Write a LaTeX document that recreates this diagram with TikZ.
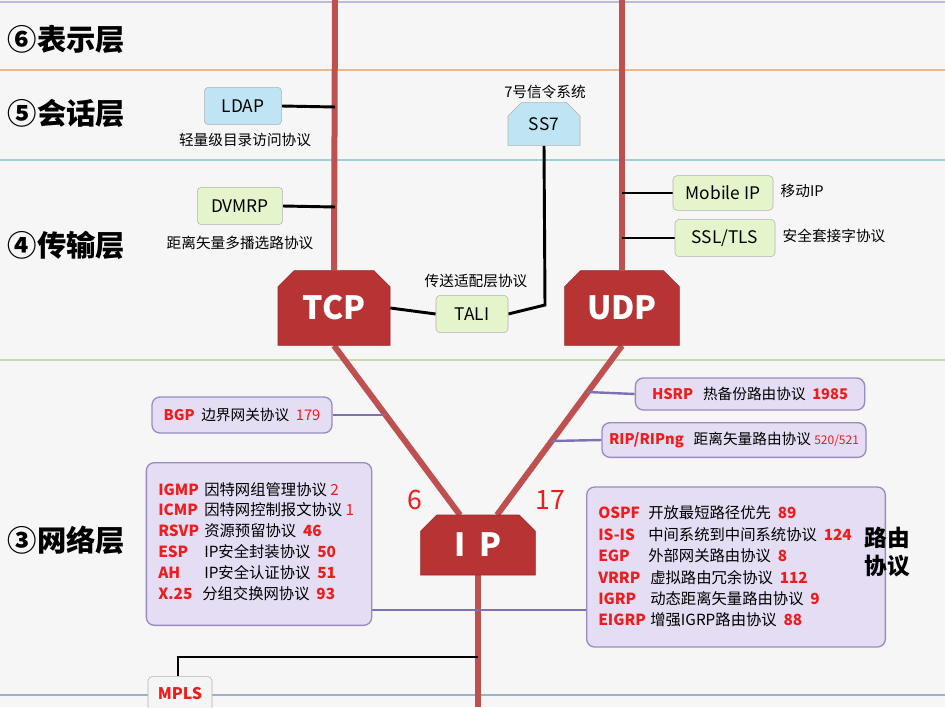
\documentclass[tikz,border=0pt]{standalone}
\usepackage{fontspec}
\setmainfont{Noto Sans CJK SC}
\usetikzlibrary{shapes.misc,backgrounds}
\definecolor{bgc}{HTML}{F6F6F6}
\definecolor{redbox}{HTML}{B83434}
\definecolor{redline}{HTML}{BE5050}
\definecolor{pfill}{HTML}{E4DDF3}
\definecolor{pdraw}{HTML}{9A8CC0}
\definecolor{pline}{HTML}{7F70B4}
\definecolor{bfill}{HTML}{BFE4F4}
\definecolor{gfill}{HTML}{E4F5CC}
\definecolor{txtred}{HTML}{EE1C1C}
\tikzset{
 x=0.75pt,y=-0.75pt,
 redn/.style={chamfered rectangle,chamfered rectangle xsep=6pt,chamfered rectangle ysep=6pt,chamfered rectangle corners={north west,north east},fill=redbox,draw=redbox!80!black,text=white,font=\bfseries\fontsize{24}{24}\selectfont,inner sep=0pt},
 sbox/.style={rounded corners=3pt,draw=gray!60,inner sep=0pt,font=\fontsize{13}{13}\selectfont},
 blue/.style={sbox,fill=bfill},
 green/.style={sbox,fill=gfill},
 pbox/.style={rounded corners=6pt,draw=pdraw,line width=1pt,fill=pfill,inner sep=0pt},
 lab/.style={font=\fontsize{11}{11}\selectfont},
 layer/.style={font=\bfseries\fontsize{22}{22}\selectfont,anchor=west},
 rl/.style={redline,line width=4.5pt},
 bl/.style={black,line width=2.2pt},
 pl/.style={pline,line width=1.8pt},
 item/.style={anchor=west,font=\fontsize{11.5}{11.5}\selectfont,inner sep=0pt},
 nm/.style={item,text=txtred,font=\bfseries\fontsize{11.5}{11.5}\selectfont},
}
\newcommand{\rn}[1]{{\color{txtred}#1}}
\begin{document}
\begin{tikzpicture}
\useasboundingbox (0,0) rectangle (945,707);
\clip (0,0) rectangle (945,707);
\begin{scope}[on background layer]
\fill[bgc] (0,0) rectangle (945,707);
\draw[line width=1pt,color={rgb,255:red,192;green,184;blue,216}] (0,2) -- (945,2);
\draw[line width=1pt,color={rgb,255:red,232;green,184;blue,144}] (0,70) -- (945,70);
\draw[line width=1pt,color={rgb,255:red,156;green,207;blue,216}] (0,160) -- (945,160);
\draw[line width=1pt,color={rgb,255:red,200;green,216;blue,176}] (0,360) -- (945,360);
\draw[line width=1pt,color={rgb,255:red,154;green,176;blue,208}] (0,695) -- (945,695);
\end{scope}
\node[layer] (l6) at (3,40) {⑥表示层};
\node[layer] (l5) at (3,113) {⑤会话层};
\node[layer] (l4) at (3,245) {④传输层};
\node[layer] (l3) at (3,540) {③网络层};

\node[redn,minimum width=84pt,minimum height=56pt] (TCP) at (334,308) {TCP};
\node[redn,minimum width=86pt,minimum height=56pt] (UDP) at (622,308) {UDP};
\node[redn,minimum width=86pt,minimum height=45pt] (IP) at (478,545) {I\hspace{10pt}P};

\node[blue,minimum width=58pt,minimum height=28pt] (LDAP) at (243,106) {LDAP};
\node[lab] (LDAPl) at (245,140) {轻量级目录访问协议};
\node[green,minimum width=64pt,minimum height=28pt] (DVMRP) at (240,206) {DVMRP};
\node[lab] (DVMRPl) at (240,243) {距离矢量多播选路协议};
\node[blue,rounded corners=0pt,chamfered rectangle,chamfered rectangle xsep=5pt,chamfered rectangle ysep=5pt,chamfered rectangle corners={north west,north east},minimum width=54pt,minimum height=32pt] (SS7) at (544,124) {SS7};
\node[lab] (SS7l) at (545,92) {7号信令系统};
\node[green,minimum width=54pt,minimum height=28pt] (TALI) at (472,314) {TALI};
\node[lab] (TALIl) at (476,281) {传送适配层协议};
\node[green,minimum width=75pt,minimum height=26pt] (MIP) at (723,193) {Mobile IP};
\node[lab,anchor=west] (MIPl) at (776,191) {移动IP};
\node[green,minimum width=75pt,minimum height=28pt] (SSL) at (725,238) {SSL/TLS};
\node[lab,anchor=west] (SSLl) at (778,236) {安全套接字协议};

\node[pbox,minimum width=135pt,minimum height=27pt,font=\fontsize{11}{11}\selectfont] (BGP) at (242,415) {{\color{txtred}\bfseries BGP}\ \ 边界网关协议\ \ \rn{179}};
\node[pbox,minimum width=172pt,minimum height=24pt,font=\fontsize{11}{11}\selectfont] (HSRP) at (750,394) {{\color{txtred}\bfseries HSRP}\ \ \ 热备份路由协议\ \ {\color{txtred}\bfseries 1985}};
\node[pbox,minimum width=198pt,minimum height=26pt,font=\fontsize{11}{11}\selectfont] (RIP) at (734,440) {{\color{txtred}\bfseries RIP/RIPng}\ \ \ 距离矢量路由协议\ {\color{txtred}\fontsize{9}{9}\selectfont 520/521}};

\node[pbox,minimum width=169pt,minimum height=122pt] (LB) at (259,544) {};
\node[nm] (n1) at (158,490) {IGMP}; \node[item] (d1) at (204,490) {因特网组管理协议\ \rn{2}};
\node[nm] (n2) at (158,510) {ICMP}; \node[item] (d2) at (204,510) {因特网控制报文协议\ \rn{1}};
\node[nm] (n3) at (158,531) {RSVP}; \node[item] (d3) at (204,531) {资源预留协议\ \ \rn{\bfseries 46}};
\node[nm] (n4) at (158,552) {ESP}; \node[item] (d4) at (204,552) {IP安全封装协议\ \ \rn{\bfseries 50}};
\node[nm] (n5) at (158,573) {AH}; \node[item] (d5) at (204,573) {IP安全认证协议\ \ \rn{\bfseries 51}};
\node[nm] (n6) at (158,594) {X.25}; \node[item] (d6) at (202,594) {分组交换网协议\ \ \rn{\bfseries 93}};

\node[pbox,minimum width=224pt,minimum height=120pt] (RB) at (736,567) {};
\node[nm] (m1) at (598,513) {OSPF}; \node[item] (e1) at (648,513) {开放最短路径优先\ \ \rn{\bfseries 89}};
\node[nm] (m2) at (598,535) {IS-IS}; \node[item] (e2) at (648,535) {中间系统到中间系统协议\ \ \rn{\bfseries 124}};
\node[nm] (m3) at (598,556) {EGP}; \node[item] (e3) at (648,556) {外部网关路由协议\ \ \rn{\bfseries 8}};
\node[nm] (m4) at (598,578) {VRRP}; \node[item] (e4) at (650,578) {虚拟路由冗余协议\ \ \rn{\bfseries 112}};
\node[nm] (m5) at (598,599) {IGRP}; \node[item] (e5) at (650,599) {动态距离矢量路由协议\ \ \rn{\bfseries 9}};
\node[nm] (m6) at (598,620) {EIGRP}; \node[item] (e6) at (650,620) {增强IGRP路由协议\ \ \rn{\bfseries 88}};
\node[font=\bfseries\fontsize{17}{21}\selectfont,align=left] (RT) at (887,552) {路由\\协议};

\node[sbox,fill=gray!8,minimum width=48pt,minimum height=26pt,text=txtred,font=\bfseries\fontsize{12}{12}\selectfont] (MPLS) at (180,694) {MPLS};

\node[text=txtred,font=\fontsize{20}{20}\selectfont] (six) at (415,500) {6};
\node[text=txtred,font=\fontsize{20}{20}\selectfont] (svt) at (550,500) {17};

\coordinate (tcptop) at (335,0);
\coordinate (udptop) at (622,0);
\coordinate (ipL) at (460,515);
\coordinate (ipR) at (497,515);
\coordinate (ipbot) at (478,707);
\coordinate (ldapj) at (335,107);
\coordinate (dvj) at (335,207);
\coordinate (ss7c) at (545,305);
\coordinate (mipj) at (622,193);
\coordinate (sslj) at (622,238);
\coordinate (bgpj) at (386,415);
\coordinate (hsrpj) at (587,392);
\coordinate (ripj) at (551,441);
\coordinate (lbj) at (588,610);
\coordinate (mplsc) at (178,657);
\coordinate (mplsj) at (478,657);
\begin{scope}[on background layer]
\draw[rl] (tcptop) -- (TCP.north);
\draw[rl] (udptop) -- (UDP.north);
\draw[rl] (TCP.south) -- (ipL);
\draw[rl] (UDP.south) -- (ipR);
\draw[rl] (IP.south) -- (ipbot);
\draw[bl] (LDAP.east) -- (ldapj);
\draw[bl] (DVMRP.east) -- (dvj);
\draw[bl] (SS7.south) -- (ss7c) -- (TALI.east);
\draw[bl] (TCP.east) -- (TALI.west);
\draw[bl] (mipj) -- (MIP.west);
\draw[bl] (sslj) -- (SSL.west);
\draw[pl] (BGP.east) -- (bgpj);
\draw[pl] (hsrpj) -- (HSRP.west);
\draw[pl] (ripj) -- (RIP.west);
\draw[pl] (372,610) -- (lbj);
\draw[bl] (MPLS.north -| mplsc) -- (mplsc) -- (mplsj);
\end{scope}
\end{tikzpicture}
\end{document}
